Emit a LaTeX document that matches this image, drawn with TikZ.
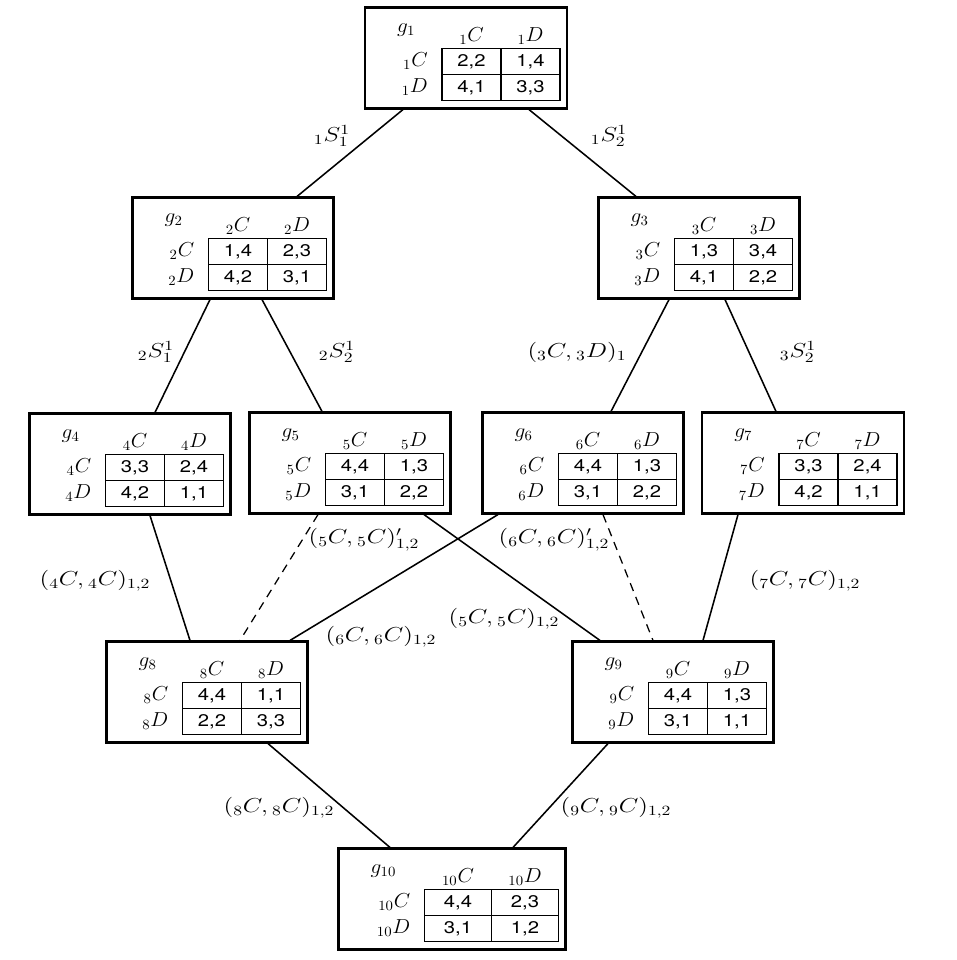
\documentclass[tikz,border=0pt]{standalone}
\usepackage{fontspec}
\setsansfont{TeX Gyre Heros}
\usetikzlibrary{calc}

% #1 name, #2 centre, #3 index, #4 box width, #5 column width, #6-#9 payoffs
\newcommand{\game}[9]{%
    \node[gamebox, minimum width=#4*0.025cm] (#1) at (#2) {};
    \coordinate (#1-tr) at ($(#1.north east)+(-8,42)$);
    \node[inner, anchor=west] (#1-g) at ($(#1.north west)+(33,24)$) {$g_{#3}$};
    % table
    \draw[grid] (#1-tr) rectangle ($(#1-tr)+(-2*#5,52)$);
    \draw[grid] ($(#1-tr)+(-#5,0)$) -- ($(#1-tr)+(-#5,52)$);
    \draw[grid] ($(#1-tr)+(-2*#5,26)$) -- ($(#1-tr)+(0,26)$);
    % strategies
    \node[inner] (#1-hc) at ($(#1-tr)+(-1.5*#5,-12)$) {${}_{#3}C$};
    \node[inner] (#1-hd) at ($(#1-tr)+(-0.5*#5,-12)$) {${}_{#3}D$};
    \node[inner, anchor=east] (#1-rc) at ($(#1-tr)+(-2*#5-14,13)$) {${}_{#3}C$};
    \node[inner, anchor=east] (#1-rd) at ($(#1-tr)+(-2*#5-14,39)$) {${}_{#3}D$};
    % payoffs
    \node[payoff] (#1-cc) at ($(#1-tr)+(-1.5*#5,13)$) {#6};
    \node[payoff] (#1-cd) at ($(#1-tr)+(-0.5*#5,13)$) {#7};
    \node[payoff] (#1-dc) at ($(#1-tr)+(-1.5*#5,39)$) {#8};
    \node[payoff] (#1-dd) at ($(#1-tr)+(-0.5*#5,39)$) {#9};
}

\begin{document}
\begin{tikzpicture}[
    x=0.025cm, y=-0.025cm,
    gamebox/.style={rectangle, draw=black, line width=1.5pt, inner sep=0pt, minimum height=2.525cm},
    grid/.style={line width=0.9pt},
    inner/.style={inner sep=0pt, font=\Large, xscale=1.05},
    payoff/.style={inner sep=0pt, font=\sffamily\large, xscale=1.2},
    edge/.style={line width=1.1pt},
    dashedge/.style={line width=0.9pt, dash pattern=on 6pt off 4.5pt},
    lbl/.style={font=\Large, inner sep=0pt, xscale=1.25}
]
    \useasboundingbox (0,0) rectangle (957,960);

    % Games
    \game{g1}{466,58}{1}{202}{59}{2,2}{1,4}{4,1}{3,3}
    \game{g2}{233,248}{2}{201}{59}{1,4}{2,3}{4,2}{3,1}
    \game{g3}{699,248}{3}{201}{59}{1,3}{3,4}{4,1}{2,2}
    \game{g4}{130,464}{4}{201}{59}{3,3}{2,4}{4,2}{1,1}
    \game{g5}{350,463}{5}{201}{59}{4,4}{1,3}{3,1}{2,2}
    \game{g6}{583,463}{6}{201}{59}{4,4}{1,3}{3,1}{2,2}
    \game{g7}{803,463}{7}{202}{59}{3,3}{2,4}{4,2}{1,1}
    \game{g8}{207,692}{8}{201}{59}{4,4}{1,1}{2,2}{3,3}
    \game{g9}{673,692}{9}{201}{59}{4,4}{1,3}{3,1}{1,1}
    \game{g10}{452,899}{10}{227}{67}{4,4}{2,3}{3,1}{1,2}

    % Top level
    \draw[edge] ($(g1.south)+(-63,0)$) -- ($(g2.north)+(64,0)$);
    \draw[edge] ($(g1.south)+(63,0)$) -- ($(g3.north)+(-63,0)$);
    \node[lbl] (s11) at (332,136) {${}_1S^1_1$};
    \node[lbl] (s12) at (609,136) {${}_1S^1_2$};

    % Second level
    \draw[edge] ($(g2.south)+(-23,0)$) -- ($(g4.north)+(25,0)$);
    \draw[edge] ($(g2.south)+(29,0)$) -- ($(g5.north)+(-28,0)$);
    \draw[edge] ($(g3.south)+(-30,0)$) -- ($(g6.north)+(28,0)$);
    \draw[edge] ($(g3.south)+(26,0)$) -- ($(g7.north)+(-27,0)$);
    \node[lbl] (s21) at (156,352) {${}_2S^1_1$};
    \node[lbl] (s22) at (337,352) {${}_2S^1_2$};
    \node[lbl] (s31) at (577,352) {$({}_3C,{}_3D)_1$};
    \node[lbl] (s32) at (798,352) {${}_3S^1_2$};

    % Third level
    \draw[edge] ($(g4.south)+(20,0)$) -- ($(g8.north)+(-17,0)$);
    \draw[dashedge] ($(g5.south)+(-32,0)$) -- ($(g8.north)+(33,0)$);
    \draw[edge] ($(g5.south)+(74,0)$) -- ($(g9.north)+(-73,0)$);
    \draw[edge] ($(g6.south)+(-85,0)$) -- ($(g8.north)+(83,0)$);
    \draw[dashedge] ($(g6.south)+(20,0)$) -- ($(g9.north)+(-20,0)$);
    \draw[edge] ($(g7.south)+(-65,0)$) -- ($(g9.north)+(30,0)$);
    \node[lbl] (s4) at (95,581) {$({}_4C,{}_4C)_{1,2}$};
    \node[lbl] (s5d) at (364,540) {$({}_5C,{}_5C)'_{1,2}$};
    \node[lbl] (s6d) at (554,540) {$({}_6C,{}_6C)'_{1,2}$};
    \node[lbl] (s5) at (504,619) {$({}_5C,{}_5C)_{1,2}$};
    \node[lbl] (s6) at (381,637) {$({}_6C,{}_6C)_{1,2}$};
    \node[lbl] (s7) at (805,581) {$({}_7C,{}_7C)_{1,2}$};

    % Bottom level
    \draw[edge] ($(g8.south)+(61,0)$) -- ($(g10.north)+(-62,0)$);
    \draw[edge] ($(g9.south)+(-65,0)$) -- ($(g10.north)+(61,0)$);
    \node[lbl] (s8) at (279,808) {$({}_8C,{}_8C)_{1,2}$};
    \node[lbl] (s9) at (616,808) {$({}_9C,{}_9C)_{1,2}$};
\end{tikzpicture}
\end{document}
